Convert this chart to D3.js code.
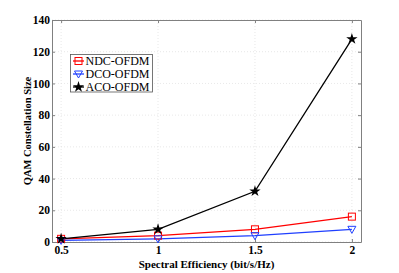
<!DOCTYPE html>
<html><head><meta charset="utf-8">
<script src="https://cdn.jsdelivr.net/npm/d3@7"></script>
<style>body{margin:0;background:#fff;}svg{display:block;}</style>
</head><body><svg id="c" width="399" height="273"></svg>
<script>
const xValues = [0.5, 1, 1.5, 2];
const ndc = [2, 4, 8, 16];
const dco = [1, 2, 4, 8];
const aco = [2, 8, 32, 128];
const xTicks = [0.5, 1, 1.5, 2];
const yTicks = [0, 20, 40, 60, 80, 100, 120, 140];
const seriesNames = ["NDC-OFDM", "DCO-OFDM", "ACO-OFDM"];
const seriesColors = ["#ff0000", "#1f3fff", "#000000"];

const svg = d3.select("#c");
const L = 52, R = 361, T = 20, B = 242;
const x = d3.scaleLinear().domain([0.453, 2.047]).range([L, R]);
const y = d3.scaleLinear().domain([0, 140]).range([B, T]);
const font = "'Liberation Serif', 'Times New Roman', serif";

// grid
const g = svg.append("g");
xTicks.forEach(t => g.append("line").attr("x1", x(t)).attr("x2", x(t)).attr("y1", T).attr("y2", B)
  .attr("stroke", "#d8d8d8").attr("stroke-width", 0.6).attr("stroke-dasharray", "1,2"));
yTicks.forEach(t => g.append("line").attr("x1", L).attr("x2", R).attr("y1", y(t)).attr("y2", y(t))
  .attr("stroke", "#d8d8d8").attr("stroke-width", 0.6).attr("stroke-dasharray", "1,2"));

// axes
const xa = svg.append("g").attr("transform", `translate(0,${B})`)
  .call(d3.axisBottom(x).tickValues(xTicks).tickSizeInner(-3).tickSizeOuter(0).tickPadding(4).tickFormat(d3.format("")));
const xa2 = svg.append("g").attr("transform", `translate(0,${T})`)
  .call(d3.axisTop(x).tickValues(xTicks).tickSizeInner(-3).tickSizeOuter(0).tickFormat(""));
const ya = svg.append("g").attr("transform", `translate(${L},0)`)
  .call(d3.axisLeft(y).tickValues(yTicks).tickSizeInner(-3).tickSizeOuter(0).tickPadding(2));
const ya2 = svg.append("g").attr("transform", `translate(${R},0)`)
  .call(d3.axisRight(y).tickValues(yTicks).tickSizeInner(-3).tickSizeOuter(0).tickFormat(""));
[xa, xa2, ya, ya2].forEach(a => {
  a.selectAll("path").attr("stroke", "#808080").attr("stroke-width", 1);
  a.selectAll("line").attr("stroke", "#808080");
  a.selectAll("text").attr("font-family", font).attr("font-size", 11.5).attr("font-weight", "bold").attr("fill", "#000");
});

// lines
const sets = [ndc, dco, aco];
const line = d3.line().x((d, i) => x(xValues[i])).y(d => y(d));
sets.forEach((s, k) => {
  svg.append("path").datum(s).attr("d", line).attr("fill", "none")
    .attr("stroke", seriesColors[k]).attr("stroke-width", 1.3);
});
function marker(sel, k, cx, cy) {
  if (k === 0) {
    sel.append("rect").attr("x", cx - 3.5).attr("y", cy - 3.5).attr("width", 7).attr("height", 7)
      .attr("fill", "none").attr("stroke", seriesColors[0]).attr("stroke-width", 1);
  } else if (k === 1) {
    sel.append("path").attr("d", `M${cx - 4},${cy - 3}L${cx + 4},${cy - 3}L${cx},${cy + 4}Z`)
      .attr("fill", "none").attr("stroke", seriesColors[1]).attr("stroke-width", 1);
  } else {
    sel.append("path").attr("d", d3.symbol().type(d3.symbolStar).size(40)())
      .attr("transform", `translate(${cx},${cy})`).attr("fill", "#000");
  }
}
sets.forEach((s, k) => s.forEach((v, i) => marker(svg, k, x(xValues[i]), y(v))));

// legend
const lg = svg.append("g");
lg.append("rect").attr("x", 70.5).attr("y", 54.5).attr("width", 82).attr("height", 37.5)
  .attr("fill", "#fff").attr("stroke", "#555").attr("stroke-width", 0.8);
seriesNames.forEach((n, k) => {
  const yy = 61 + k * 13;
  lg.append("line").attr("x1", 73).attr("x2", 84).attr("y1", yy).attr("y2", yy)
    .attr("stroke", seriesColors[k]).attr("stroke-width", 1.3);
  marker(lg, k, 78.5, yy);
  lg.append("text").attr("x", 85.5).attr("y", yy + 4).text(n)
    .attr("font-family", font).attr("font-size", 12).attr("fill", "#000");
});

// axis labels
svg.append("text").attr("x", (L + R) / 2).attr("y", 268).attr("text-anchor", "middle")
  .attr("font-family", font).attr("font-size", 11).attr("font-weight", "bold").text("Spectral Efficiency (bit/s/Hz)");
svg.append("text").attr("transform", `translate(31,${(T + B) / 2}) rotate(-90)`).attr("text-anchor", "middle")
  .attr("font-family", font).attr("font-size", 10.5).attr("font-weight", "bold").text("QAM Constellation Size");
</script></body></html>
